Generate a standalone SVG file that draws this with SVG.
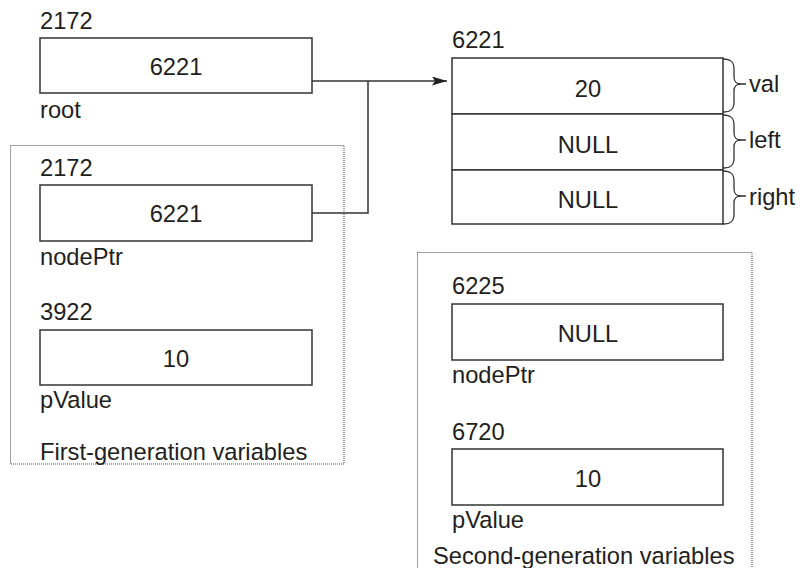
<svg xmlns="http://www.w3.org/2000/svg" width="805" height="568" viewBox="0 0 805 568">
<style>
text{font-family:"Liberation Sans",Arial,sans-serif;font-size:23.7px;fill:#231f20}
.c{text-anchor:middle}
.box{fill:#fff;stroke:#333;stroke-width:1.5}
.dot{fill:none;stroke:#444;stroke-width:1;stroke-dasharray:1 1}
.ln{fill:none;stroke:#333;stroke-width:1.5}
.br{fill:none;stroke:#333;stroke-width:1.3}
</style>
<defs>
<marker id="ah" markerWidth="16" markerHeight="10" refX="15" refY="4.5" orient="auto" markerUnits="userSpaceOnUse">
<path d="M0,0 L15,4.5 L0,9 L3,4.5 z" fill="#222"/>
</marker>
<path id="brace" d="M0 0 C8 0 11 3 11 10 L11 18 C11 23 13 25 19 25 C13 25 11 27 11 32 L11 43 C11 50 8 53 0 53 M19 25 L23 25"/>
</defs>
<rect class="dot" x="10.5" y="145.5" width="333.5" height="318.5"/>
<rect class="dot" x="417.5" y="252.5" width="334.5" height="330"/>
<g id="root">
<text x="40" y="29">2172</text>
<rect class="box" x="40" y="38" width="272" height="55"/>
<text class="c" x="176" y="75">6221</text>
<text x="40" y="118">root</text>
</g>
<g id="nodePtr1">
<text x="40" y="176">2172</text>
<rect class="box" x="40" y="185" width="272" height="56"/>
<text class="c" x="176" y="222">6221</text>
<text x="40" y="265">nodePtr</text>
</g>
<g id="pValue1">
<text x="40" y="320">3922</text>
<rect class="box" x="40" y="330" width="272" height="55"/>
<text class="c" x="176" y="367">10</text>
<text x="40" y="408">pValue</text>
</g>
<g id="firstGen">
<text x="40" y="460">First-generation variables</text>
</g>
<g id="node6221">
<text x="452" y="48">6221</text>
<rect class="box" x="452" y="58" width="271" height="56"/>
<rect class="box" x="452" y="114" width="271" height="56"/>
<rect class="box" x="452" y="170" width="271" height="54"/>
<text class="c" x="588" y="97">20</text>
<text class="c" x="588" y="153">NULL</text>
<text class="c" x="588" y="208">NULL</text>
<use href="#brace" class="br" transform="translate(723,59)"/>
<use href="#brace" class="br" transform="translate(723,115)"/>
<use href="#brace" class="br" transform="translate(723,171)"/>
<text x="749" y="92">val</text>
<text x="749" y="148">left</text>
<text x="749" y="205">right</text>
</g>
<g id="nodePtr2">
<text x="452" y="294">6225</text>
<rect class="box" x="452" y="304" width="271" height="56"/>
<text class="c" x="588" y="342">NULL</text>
<text x="452" y="383">nodePtr</text>
</g>
<g id="pValue2">
<text x="452" y="440">6720</text>
<rect class="box" x="452" y="449" width="271" height="56"/>
<text class="c" x="588" y="487">10</text>
<text x="452" y="528">pValue</text>
</g>
<g id="secondGen">
<text x="433" y="564">Second-generation variables</text>
</g>
<g id="connectors">
<path class="ln" d="M312 81 L447 81" marker-end="url(#ah)"/>
<path class="ln" d="M312 213 L368 213 L368 81"/>
</g>
</svg>
